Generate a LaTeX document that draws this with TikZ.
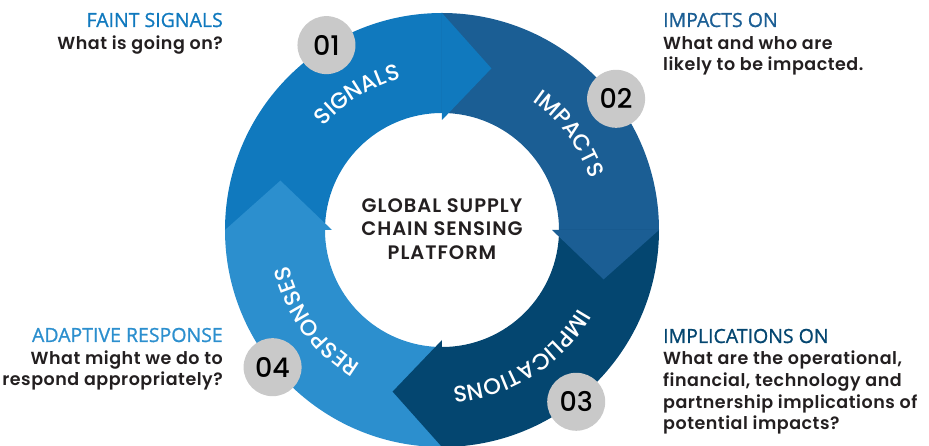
\documentclass[tikz,border=0pt]{standalone}
\usepackage{fontspec}
\setmainfont{Poppins}
\newfontfamily\medfont{Poppins Medium}
\newfontfamily\ringfont{Poppins Medium}[LetterSpace=5]
\newfontfamily\semifont{Poppins SemiBold}[LetterSpace=3]
\newfontfamily\hubfont{Poppins SemiBold}[LetterSpace=5]
\IfFontExistsTF{Open Sans SemiBold}
   {\newfontfamily\headfont{Open Sans SemiBold}}
   {\newfontfamily\headfont{Open Sans}[FakeBold=1]}
\usetikzlibrary{decorations.text,positioning}
\definecolor{sigblue}{HTML}{1079BE}
\definecolor{impblue}{HTML}{1B5E94}
\definecolor{implblue}{HTML}{044670}
\definecolor{respblue}{HTML}{2C8FCE}
\definecolor{dotgray}{HTML}{C9C9C9}
\definecolor{inkgray}{HTML}{231F20}

\begin{document}
\begin{tikzpicture}[x=1pt,y=1pt,
   numdot/.style={circle,fill=dotgray,minimum size=58pt,inner sep=0pt,text=black,
      font=\medfont\fontsize{27}{27}\selectfont},
   heading/.style={font=\headfont\fontsize{19.5}{19.5}\selectfont,inner sep=0pt},
   question/.style={font=\semifont\fontsize{17.5}{21}\selectfont,text=inkgray,inner sep=0pt},
   ringlabel/.style={decorate,decoration={text along path,text align=center,text color=white,
      text={|\ringfont\fontsize{22.5}{22.5}\selectfont|#1}}}]
   \useasboundingbox (-442,-216) rectangle (487,230);
   \foreach \a/\col in {180/sigblue,90/impblue,0/implblue,270/respblue}
      \fill[\col] (\a:217) arc[start angle=\a,end angle=\a-90,radius=217]
         -- (\a-90:117) arc[start angle=\a-90,end angle=\a,radius=117] -- cycle;
   \foreach \a/\col in {180/sigblue,90/impblue,0/implblue,270/respblue}
      \fill[\col] (\a-90:217) -- (\a-107:169) -- (\a-90:110) -- cycle;
   \path[ringlabel=SIGNALS] (172:157) arc[start angle=172,end angle=72,radius=157];
   \path[ringlabel=IMPACTS] (87:157) arc[start angle=87,end angle=-13,radius=157];
   \path[ringlabel=IMPLICATIONS] (-8:157) arc[start angle=-8,end angle=-108,radius=157];
   \path[ringlabel=RESPONSES] (266:157) arc[start angle=266,end angle=166,radius=157];
   \node[numdot] (n01) at (122:218) {01};
   \node[numdot] (n02) at (37:218) {02};
   \node[numdot] (n03) at (-52:218) {03};
   \node[numdot] (n04) at (219:218) {04};
   \node[font=\hubfont\fontsize{19.5}{23.5}\selectfont,text=inkgray,align=center] (hub) at (0,1)
      {GLOBAL SUPPLY\\CHAIN SENSING\\PLATFORM};
   \node[heading,text=sigblue,anchor=base east] (faint) at (-219,203) {FAINT SIGNALS};
   \node[question,anchor=base east,align=right] (faintq) at (-219,180) {What is going on?};
   \node[heading,text=impblue,anchor=base west] (impon) at (221,203) {IMPACTS ON};
   \node[question,anchor=base west,align=left] (impq) at (221,159)
      {What and who are\\likely to be impacted.};
   \node[heading,text=respblue,anchor=base east] (adapt) at (-219,-112) {ADAPTIVE RESPONSE};
   \node[question,anchor=base east,align=right] (adaptq) at (-219,-156)
      {What might we do to\\respond appropriately?};
   \node[heading,text=implblue,anchor=base west] (implon) at (221,-113) {IMPLICATIONS ON};
   \node[question,anchor=base west,align=left,font=\semifont\fontsize{17.5}{21.7}\selectfont] (implq) at (221,-200)
      {What are the operational,\\financial, technology and\\partnership implications of\\potential impacts?};
\end{tikzpicture}
\end{document}
